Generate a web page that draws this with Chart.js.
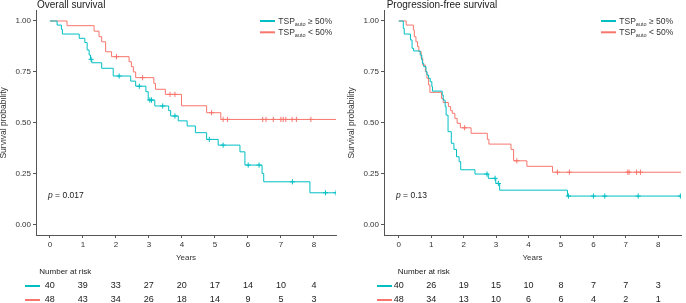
<!DOCTYPE html>
<html><head><meta charset="utf-8">
<script src="https://cdn.jsdelivr.net/npm/chart.js@4.4.1/dist/chart.umd.min.js"></script>
<style>
html,body{margin:0;padding:0;background:#fff;width:686px;height:303px;overflow:hidden}
.panel{position:absolute;top:0;width:343px;height:303px}
</style></head><body>
<div class="panel" style="left:0"><canvas id="c1" width="343" height="303"></canvas></div>
<div class="panel" style="left:343px"><canvas id="c2" width="343" height="303"></canvas></div>
<script>
// ---------- data ----------
const years = [0,1,2,3,4,5,6,7,8];
const yTicks = [0,0.25,0.5,0.75,1];
const groupHigh = '\u2265 50%';
const groupLow = '< 50%';

// Overall survival, TSP_auto >= 50%
const osHighTime = [0,0.22,0.35,0.38,0.89,1.06,1.13,1.19,1.23,1.27,1.57,1.92,2.45,2.6,2.91,2.98,3.18,3.6,3.66,3.89,4.16,4.41,4.75,5.10,5.76,5.91,6.43,6.48,7.88];
const osHighSurv = [1,0.98,0.959,0.936,0.915,0.894,0.858,0.833,0.812,0.795,0.768,0.73,0.705,0.68,0.653,0.612,0.583,0.56,0.534,0.51,0.485,0.452,0.419,0.391,0.358,0.293,0.252,0.211,0.157];
const osHighCensor = [1.25,2.1,2.71,3.03,3.08,3.42,3.79,4.83,5.25,6.01,6.34,7.35,8.35,8.67];
const osHighEnd = 8.67;
// Overall survival, TSP_auto < 50%
const osLowTime = [0,0.52,1.34,1.49,1.57,1.69,1.87,2.40,2.47,2.53,2.60,3.15,3.20,3.50,3.99,4.75,5.18];
const osLowSurv = [1,0.977,0.95,0.923,0.898,0.849,0.825,0.80,0.776,0.75,0.722,0.694,0.665,0.64,0.584,0.55,0.517];
const osLowCensor = [2.02,2.81,3.64,3.79,4.9,5.25,5.38,6.45,6.55,6.77,7.0,7.07,7.15,7.34,7.47,7.91];
const osLowEnd = 8.67;
const osHighRisk = [40,39,33,27,20,17,14,10,4];
const osLowRisk = [48,43,34,26,18,14,9,5,3];

// Progression-free survival, TSP_auto >= 50%
const pfsHighTime = [0,0.14,0.17,0.36,0.41,0.46,0.66,0.71,0.73,0.77,0.84,0.87,0.92,0.97,1.02,1.04,1.34,1.37,1.43,1.46,1.52,1.62,1.70,1.78,1.86,1.91,2.35,2.76,2.99,3.11,5.2];
const pfsHighSurv = [1,0.964,0.936,0.907,0.866,0.853,0.833,0.808,0.792,0.776,0.751,0.735,0.719,0.702,0.678,0.656,0.637,0.612,0.58,0.538,0.457,0.40,0.37,0.334,0.31,0.27,0.249,0.228,0.203,0.17,0.141];
const pfsHighCensor = [2.72,2.97,3.07,5.23,6.0,6.35,7.38,8.68];
const pfsHighEnd = 8.7;
// Progression-free survival, TSP_auto < 50%
const pfsLowTime = [0,0.23,0.45,0.48,0.53,0.58,0.62,0.69,0.74,0.82,0.87,0.92,0.96,1.32,1.37,1.53,1.60,1.65,1.73,1.80,1.90,2.23,2.73,2.78,3.46,3.54,3.95,4.74];
const pfsLowSurv = [1,0.98,0.956,0.923,0.898,0.874,0.85,0.817,0.784,0.751,0.719,0.686,0.65,0.62,0.60,0.58,0.56,0.547,0.522,0.498,0.476,0.449,0.419,0.396,0.37,0.314,0.287,0.258];
const pfsLowCensor = [2.03,3.64,4.89,5.26,7.06,7.1,7.33,7.45];
const pfsLowEnd = 8.7;
const pfsHighRisk = [40,26,19,15,10,8,7,7,3];
const pfsLowRisk = [48,34,13,10,6,6,4,2,1];

// ---------- styling ----------
const TEAL = '#00BFC4';
const RED = '#F8766D';
const FONT = '"Liberation Sans", Arial, Helvetica, sans-serif';
Chart.defaults.font.family = FONT;

function levelAt(times, surv, t){
  let s = surv[0];
  for (let i=0;i<times.length;i++){ if (times[i] <= t) s = surv[i]; }
  return s;
}
function curve(times, surv, end){
  const pts = times.map((t,i)=>({x:t,y:surv[i]}));
  pts.push({x:end, y:surv[surv.length-1]});
  return pts;
}
function censorPts(times, surv, cens){
  return cens.map(t=>({x:t, y:levelAt(times, surv, t)}));
}

function makeChart(id, p){
  const extras = {
    id: 'extras',
    afterDraw(chart){
      const ctx = chart.ctx, xs = chart.scales.x, ca = chart.chartArea;
      ctx.save();
      // title
      ctx.fillStyle = '#1a1a1a';
      ctx.font = '10px ' + FONT;
      ctx.textAlign = 'left'; ctx.textBaseline = 'alphabetic';
      ctx.fillText(p.title, p.titleX, 8);
      // y axis title
      ctx.save();
      ctx.translate(ca.left - 32, (ca.top + ca.bottom)/2);
      ctx.rotate(-Math.PI/2);
      ctx.font = '8.5px ' + FONT;
      ctx.fillStyle = '#333';
      ctx.textAlign = 'center'; ctx.textBaseline = 'middle';
      ctx.fillText('Survival probability', 0, 0);
      ctx.restore();
      // x title
      ctx.font = '8px ' + FONT;
      ctx.fillStyle = '#333';
      ctx.textAlign = 'center'; ctx.textBaseline = 'middle';
      ctx.fillText('Years', (ca.left + ca.right)/2, 257.5);
      // legend
      const items = [[TEAL, groupHigh, 21], [RED, groupLow, 32.3]];
      items.forEach(([col, lab, y])=>{
        ctx.strokeStyle = col; ctx.lineWidth = 2;
        ctx.beginPath(); ctx.moveTo(p.legX, y); ctx.lineTo(p.legX + 15, y); ctx.stroke();
        ctx.fillStyle = '#333'; ctx.textAlign = 'left'; ctx.textBaseline = 'alphabetic';
        let x = p.legX + 18.3;
        ctx.font = '8.5px ' + FONT;
        ctx.fillText('TSP', x, y + 3);
        x += ctx.measureText('TSP').width;
        ctx.font = '5.5px ' + FONT;
        ctx.fillText('auto', x, y + 4.5);
        x += ctx.measureText('auto').width;
        ctx.font = '8.5px ' + FONT;
        ctx.fillText(' ' + lab, x, y + 3);
      });
      // p value
      ctx.fillStyle = '#1a1a1a';
      ctx.textBaseline = 'middle'; ctx.textAlign = 'left';
      ctx.font = 'italic 8.5px ' + FONT;
      ctx.fillText('p', p.pX, 196);
      let px = p.pX + ctx.measureText('p').width;
      ctx.font = '8.5px ' + FONT;
      ctx.fillText(' = ' + p.pval, px, 196);
      // risk table
      ctx.fillStyle = '#1a1a1a';
      ctx.font = '8px ' + FONT;
      ctx.textAlign = 'left';
      ctx.fillText('Number at risk', p.nrX, 271.7);
      const rows = [[TEAL, p.riskHigh, 286], [RED, p.riskLow, 300]];
      rows.forEach(([col, vals, y])=>{
        ctx.strokeStyle = col; ctx.lineWidth = 2;
        ctx.beginPath(); ctx.moveTo(p.rlX, y); ctx.lineTo(p.rlX + 15, y); ctx.stroke();
        ctx.fillStyle = '#1a1a1a';
        ctx.font = '9px ' + FONT;
        ctx.textAlign = 'center'; ctx.textBaseline = 'middle';
        vals.forEach((v,i)=>{ ctx.fillText(String(v), xs.getPixelForValue(years[i]), y); });
      });
      ctx.restore();
    }
  };
  const lineDs = (data, col) => ({data, borderColor: col, backgroundColor: col, borderWidth: 1, stepped: 'before', pointRadius: 0, fill: false, tension: 0});
  const censDs = (data, col) => ({data, showLine: false, borderColor: col, backgroundColor: col, pointStyle: 'cross', pointRadius: 2.6, pointBorderWidth: 1, pointBorderColor: col});
  new Chart(document.getElementById(id), {
    type: 'line',
    data: { datasets: [
      lineDs(curve(p.hT, p.hS, p.hEnd), TEAL),
      lineDs(curve(p.lT, p.lS, p.lEnd), RED),
      censDs(censorPts(p.hT, p.hS, p.hC), TEAL),
      censDs(censorPts(p.lT, p.lS, p.lC), RED)
    ]},
    options: {
      responsive: false, animation: false, devicePixelRatio: 1,
      layout: { padding: { left: 0, right: p.padRight, top: 10.8, bottom: 0 } },
      plugins: { legend: {display: false}, tooltip: {enabled: false}, title: {display: false} },
      scales: {
        x: {
          type: 'linear', min: p.xMin, max: p.xMax,
          afterFit(s){ s.height = 68; },
          afterBuildTicks(s){ s.ticks = years.map(v=>({value: v})); },
          grid: { drawOnChartArea: false, drawTicks: true, tickLength: 3, color: '#555' },
          border: { display: true, color: '#555', width: 1 },
          ticks: { font: {size: 8}, color: '#333', padding: 1.5, maxRotation: 0, autoSkip: false, callback: v => String(v) }
        },
        y: {
          min: -0.05, max: 1.05,
          afterFit(s){ s.width = p.axisX; },
          afterBuildTicks(s){ s.ticks = yTicks.map(v=>({value: v})); },
          grid: { drawOnChartArea: false, drawTicks: true, tickLength: 3, color: '#555' },
          border: { display: true, color: '#555', width: 1 },
          ticks: { font: {size: 8}, color: '#333', padding: 2, callback: v => Number(v).toFixed(2) }
        }
      }
    },
    plugins: [extras]
  });
}

makeChart('c1', {
  title: 'Overall survival', titleX: 37,
  hT: osHighTime, hS: osHighSurv, hC: osHighCensor, hEnd: osHighEnd,
  lT: osLowTime, lS: osLowSurv, lC: osLowCensor, lEnd: osLowEnd,
  riskHigh: osHighRisk, riskLow: osLowRisk, pval: '0.017',
  xMin: -0.42, xMax: 8.67, axisX: 36, padRight: 7,
  legX: 260, pX: 48, nrX: 39.3, rlX: 25
});
makeChart('c2', {
  title: 'Progression-free survival', titleX: 43.7,
  hT: pfsHighTime, hS: pfsHighSurv, hC: pfsHighCensor, hEnd: pfsHighEnd,
  lT: pfsLowTime, lS: pfsLowSurv, lC: pfsLowCensor, lEnd: pfsLowEnd,
  riskHigh: pfsHighRisk, riskLow: pfsLowRisk, pval: '0.13',
  xMin: -0.4545, xMax: 8.70, axisX: 41, padRight: 0,
  legX: 258, pX: 53, nrX: 54.7, rlX: 34
});
</script>
</body></html>
